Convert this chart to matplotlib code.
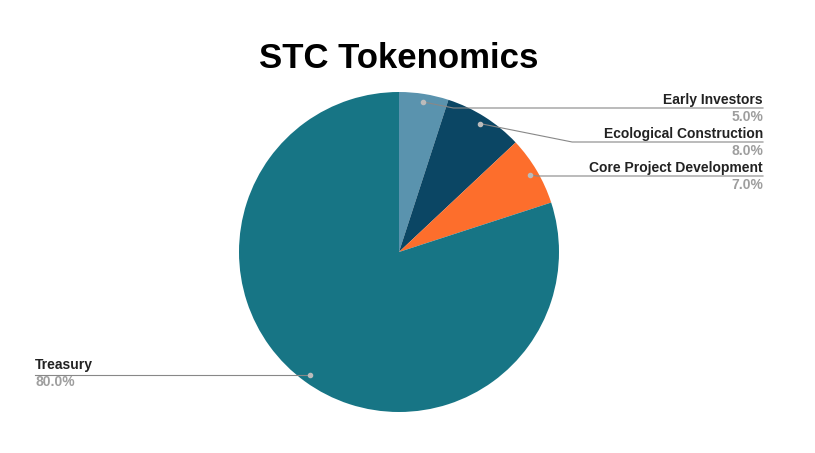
import numpy as np
import matplotlib.pyplot as plt

labels = ["Early Investors", "Ecological Construction", "Core Project Development", "Treasury"]
shares = [5.0, 8.0, 7.0, 80.0]
colors = ["#5a93ae", "#0b4664", "#fd6e2c", "#177585"]

# label text anchors in pixel coords (x, y of name line), side of chart
label_pos = [(763, 100, "right"), (763, 134, "right"), (763, 168, "right"), (35, 365, "left")]
line_y = [108, 142, 176, 375]

fig = plt.figure(figsize=(8.15, 4.53), dpi=100)
ax = fig.add_axes([0, 0, 1, 1])

cx, cy, r = 399, 252, 160
# y axis is inverted, so counterclock=True draws clockwise on screen
wedges, _ = ax.pie(shares, colors=colors, startangle=-90, counterclock=True,
                   center=(cx, cy), radius=r, frame=True,
                   wedgeprops=dict(linewidth=0))
ax.set_xlim(0, 815)
ax.set_ylim(453, 0)
ax.set_aspect("equal")
ax.axis("off")

ax.text(399, 58, "STC Tokenomics", ha="center", va="center",
        fontsize=25, fontweight="bold", family="Liberation Sans")

for w, lab, val, (tx, ty, side), ly in zip(wedges, labels, shares, label_pos, line_y):
    ang = np.deg2rad((w.theta1 + w.theta2) / 2)
    px = cx + 0.95 * r * np.cos(ang)
    py = cy + 0.95 * r * np.sin(ang)
    ax.plot(px, py, "o", color="#bbbbbb", ms=3, zorder=5)
    if side == "right":
        bend = px + min(abs(ly - py) * 5, 200)
        ax.plot([px, bend, tx], [py, ly, ly], color="#888888", lw=0.8)
    else:
        ax.plot([px, tx], [ly, ly], color="#888888", lw=0.8)
    ax.text(tx, ty, lab, ha=side, va="center", fontsize=10, fontweight="bold",
            family="Liberation Sans", color="#222222")
    ax.text(tx, ty + 17, f"{val:.1f}%", ha=side, va="center", fontsize=10,
            fontweight="bold", family="Liberation Sans", color="#9e9e9e")

fig.savefig("out.png", dpi=100, facecolor="white")
